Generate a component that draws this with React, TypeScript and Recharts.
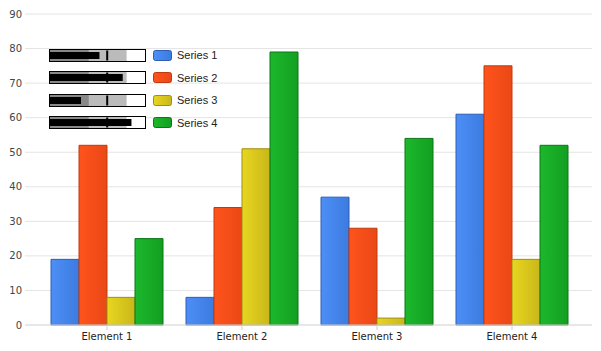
import React from 'react';
import { BarChart, Bar, XAxis, YAxis, CartesianGrid, Legend } from 'recharts';

const categories = ['Element 1', 'Element 2', 'Element 3', 'Element 4'];
const series1 = [19, 8, 37, 61];
const series2 = [52, 34, 28, 75];
const series3 = [8, 51, 2, 19];
const series4 = [25, 79, 54, 52];
const yTicks = [0, 10, 20, 30, 40, 50, 60, 70, 80, 90];

// legend bullet icons (percent of the box)
const bulletValues = [52, 76, 33, 85];
const bulletMarker = 60;
const bulletBands = [41, 80];

const seriesNames = ['Series 1', 'Series 2', 'Series 3', 'Series 4'];
const colors = [
  { id: 'g1', from: '#4d8ff7', to: '#3c7bdf', stroke: '#2d5cb4' },
  { id: 'g2', from: '#ff531c', to: '#ea4816', stroke: '#bf3a10' },
  { id: 'g3', from: '#e8d620', to: '#c9b71a', stroke: '#9e8e10' },
  { id: 'g4', from: '#1cb82c', to: '#139f21', stroke: '#0b7716' },
];

const data = categories.map((name, i) => ({
  name,
  s1: series1[i],
  s2: series2[i],
  s3: series3[i],
  s4: series4[i],
}));

const BulletLegend = () => (
  <div style={{ fontFamily: 'Liberation Sans, Arial, sans-serif', fontSize: 11, color: '#222', whiteSpace: 'nowrap' }}>
    {seriesNames.map((name, i) => {
      const w = 97;
      const c = colors[i];
      return (
        <div key={name} style={{ display: 'flex', alignItems: 'center', height: 22.5 }}>
          <svg width={w} height={13} style={{ display: 'block', flex: 'none' }}>
            <rect x={0} y={0} width={w} height={13} fill="#fff" />
            <rect x={0} y={0} width={(w * bulletBands[1]) / 100} height={13} fill="#bbbbbb" />
            <rect x={0} y={0} width={(w * bulletBands[0]) / 100} height={13} fill="#888888" />
            <rect x={0} y={3} width={(w * bulletValues[i]) / 100} height={7} fill="#000" />
            <rect x={(w * bulletMarker) / 100 - 1} y={1.5} width={2} height={10} fill="#000" />
            <rect x={0.5} y={0.5} width={w - 1} height={12} fill="none" stroke="#000" strokeWidth={1} />
          </svg>
          <svg width={19} height={11} style={{ display: 'block', marginLeft: 7, flex: 'none' }}>
            <defs>
              <linearGradient id={`lg${i}`} x1="0" y1="0" x2="1" y2="0">
                <stop offset="0%" stopColor={c.from} />
                <stop offset="100%" stopColor={c.to} />
              </linearGradient>
            </defs>
            <rect x={0.5} y={0.5} width={18} height={10} rx={2} fill={`url(#lg${i})`} stroke={c.stroke} />
          </svg>
          <span style={{ marginLeft: 5 }}>{name}</span>
        </div>
      );
    })}
  </div>
);

export default function App() {
  return (
    <div style={{ position: 'absolute', left: 0, top: 0, width: 601, height: 351, background: '#fff' }}>
      <BarChart
        width={601}
        height={351}
        data={data}
        margin={{ top: 14, right: 9, left: 0, bottom: 0 }}
        barGap={0}
        barCategoryGap={11.5}
      >
        <defs>
          {colors.map((c) => (
            <linearGradient key={c.id} id={c.id} x1="0" y1="0" x2="1" y2="0">
              <stop offset="0%" stopColor={c.from} />
              <stop offset="100%" stopColor={c.to} />
            </linearGradient>
          ))}
        </defs>
        <CartesianGrid vertical={false} stroke="#e4e4e4" />
        <XAxis
          dataKey="name"
          height={26}
          padding={{ left: 14.5, right: 12.5 }}
          axisLine={{ stroke: '#dddddd' }}
          tickLine={{ stroke: '#cccccc' }}
          tickSize={5}
          tickMargin={3}
          tick={{ fontSize: 10, fill: '#222', fontFamily: 'DejaVu Sans' }}
        />
        <YAxis
          width={25}
          domain={[0, 90]}
          ticks={yTicks}
          axisLine={false}
          tickLine={false}
          tickSize={0}
          tickMargin={3}
          tick={{ fontSize: 10, fill: '#444', fontFamily: 'DejaVu Sans' }}
        />
        <Legend
          content={<BulletLegend />}
          layout="vertical"
          verticalAlign="middle"
          align="center"
          wrapperStyle={{ left: 49, top: 44, width: 200 }}
        />
        <Bar dataKey="s1" name="Series 1" fill="url(#g1)" stroke={colors[0].stroke} isAnimationActive={false} />
        <Bar dataKey="s2" name="Series 2" fill="url(#g2)" stroke={colors[1].stroke} isAnimationActive={false} />
        <Bar dataKey="s3" name="Series 3" fill="url(#g3)" stroke={colors[2].stroke} isAnimationActive={false} />
        <Bar dataKey="s4" name="Series 4" fill="url(#g4)" stroke={colors[3].stroke} isAnimationActive={false} />
      </BarChart>
    </div>
  );
}
